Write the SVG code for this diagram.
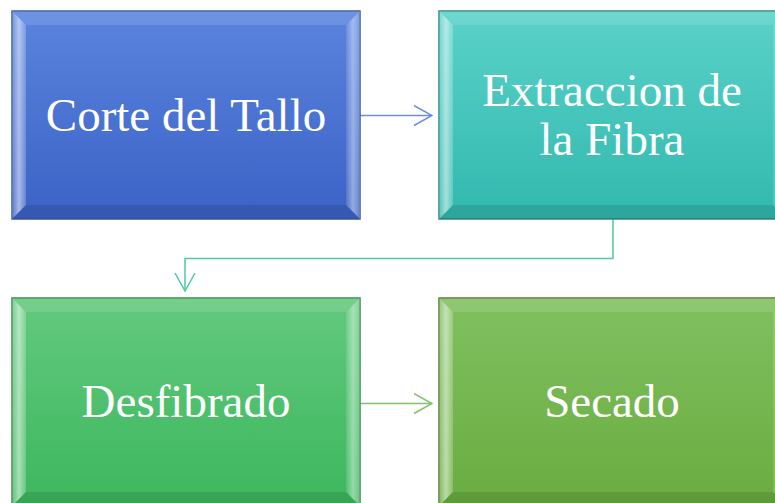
<svg xmlns="http://www.w3.org/2000/svg" width="775" height="503" viewBox="0 0 775 503">
<defs>
<linearGradient id="g1" x1="0" y1="0" x2="0" y2="1"><stop offset="0" stop-color="#5a84de"/><stop offset="1" stop-color="#3b62c6"/></linearGradient>
<linearGradient id="g2" x1="0" y1="0" x2="0" y2="1"><stop offset="0" stop-color="#5ad2c9"/><stop offset="1" stop-color="#32b8ae"/></linearGradient>
<linearGradient id="g3" x1="0" y1="0" x2="0" y2="1"><stop offset="0" stop-color="#62c97e"/><stop offset="1" stop-color="#3db75e"/></linearGradient>
<linearGradient id="g4" x1="0" y1="0" x2="0" y2="1"><stop offset="0" stop-color="#80c060"/><stop offset="1" stop-color="#6aac40"/></linearGradient>
<linearGradient id="lb" x1="0" y1="0" x2="1" y2="0"><stop offset="0" stop-color="#fff" stop-opacity="0.15"/><stop offset="0.5" stop-color="#fff" stop-opacity="0.55"/><stop offset="1" stop-color="#fff" stop-opacity="0.2"/></linearGradient>
<linearGradient id="rb" x1="0" y1="0" x2="1" y2="0"><stop offset="0" stop-color="#fff" stop-opacity="0.1"/><stop offset="0.5" stop-color="#fff" stop-opacity="0.45"/><stop offset="1" stop-color="#fff" stop-opacity="0.2"/></linearGradient>
<marker id="ah" viewBox="0 0 20 22" refX="19" refY="11" markerWidth="20" markerHeight="22" markerUnits="userSpaceOnUse" orient="auto">
<path d="M1 1 L19 11 L1 21" fill="none" stroke="context-stroke" stroke-width="1.5"/>
</marker>
<g id="bevel">
<polygon points="0,0 14,14 14,194 0,208" fill="url(#lb)"/>
<polygon points="348,0 334,14 334,194 348,208" fill="url(#rb)"/>
<polygon points="0,0 348,0 334,14 14,14" fill="#fff" fill-opacity="0.12"/>
<polygon points="0,208 348,208 334,194 14,194" fill="#000" fill-opacity="0.1"/>
</g>
</defs>
<style>
.box{stroke-width:1.5}
.lbl{font-family:"Liberation Serif","Times New Roman",serif;font-size:47px;fill:#fff;text-anchor:middle}
.conn{fill:none;stroke-width:1.5;marker-end:url(#ah)}
</style>
<g id="connectors">
<path class="conn" d="M360 115.5 H432" stroke="#6b8fe0"/>
<path class="conn" d="M613 219 V258.5 H185 V291" stroke="#4fc9a0"/>
<path class="conn" d="M360 403.5 H432" stroke="#7ec46c"/>
</g>
<g id="node1">
<rect class="box" x="12" y="11" width="348" height="208" fill="url(#g1)" stroke="#3d5a9e"/>
<use href="#bevel" x="12" y="11"/>
<text class="lbl" x="186" y="131">Corte del Tallo</text>
</g>
<g id="node2">
<rect class="box" x="439" y="11" width="348" height="208" fill="url(#g2)" stroke="#2e8a82"/>
<use href="#bevel" x="439" y="11"/>
<text class="lbl" x="612" y="106">Extraccion de</text>
<text class="lbl" x="612" y="155">la Fibra</text>
</g>
<g id="node3">
<rect class="box" x="12" y="298" width="348" height="208" fill="url(#g3)" stroke="#3a8a52"/>
<use href="#bevel" x="12" y="298"/>
<text class="lbl" x="186" y="417">Desfibrado</text>
</g>
<g id="node4">
<rect class="box" x="439" y="298" width="348" height="208" fill="url(#g4)" stroke="#557f3a"/>
<use href="#bevel" x="439" y="298"/>
<text class="lbl" x="612" y="417">Secado</text>
</g>
</svg>
